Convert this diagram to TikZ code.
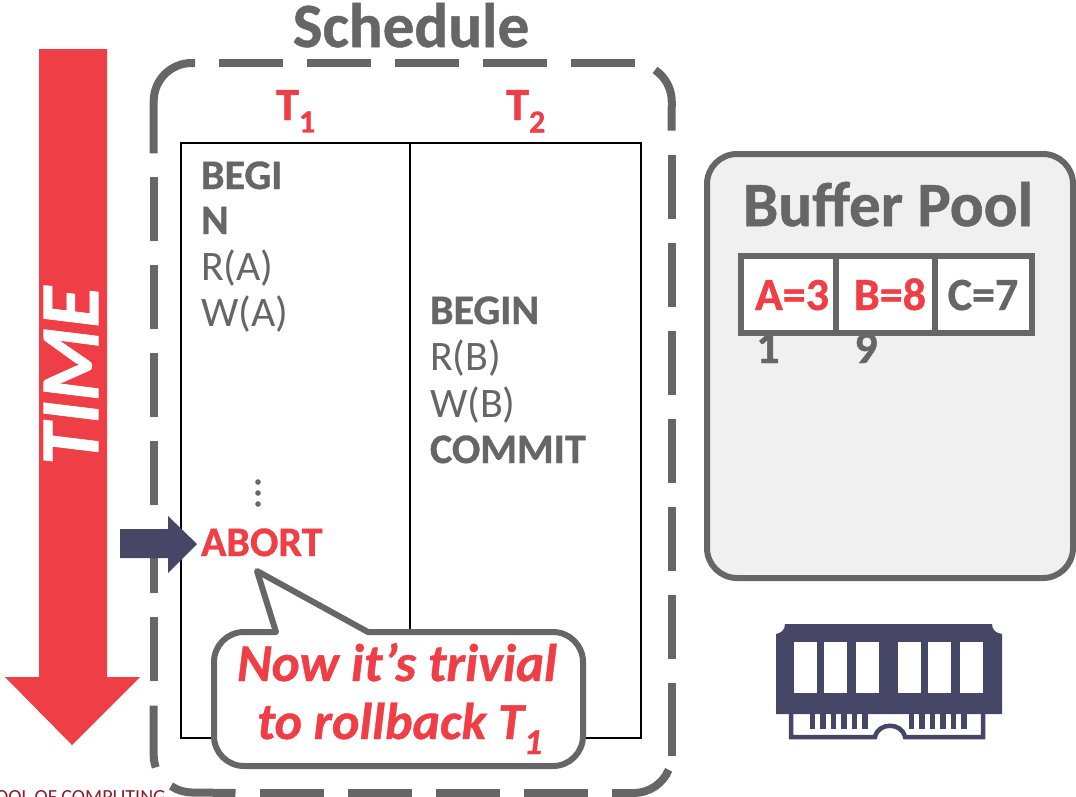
\documentclass[tikz,border=0pt]{standalone}
\usepackage{fontspec}
\setmainfont[BoldFeatures={FakeBold=0.8},BoldItalicFeatures={FakeBold=0.8}]{Carlito}
\definecolor{cred}{HTML}{EF3E45}
\definecolor{cgray}{HTML}{666666}
\definecolor{cnavy}{HTML}{464666}
\definecolor{cpool}{HTML}{F0F0F0}
\definecolor{cdark}{HTML}{8C1D2B}
\newcommand{\fs}[1]{\fontsize{#1}{#1}\selectfont}
\tikzset{
  lab/.style={inner sep=0pt,outer sep=0pt,anchor=base west},
  opname/.style={lab,text=cgray,font=\fs{42}},
  opbold/.style={lab,text=cgray,font=\fs{42}\bfseries},
  cellred/.style={inner sep=0pt,anchor=base,text=cred,font=\fs{46}\bfseries},
  cellgray/.style={inner sep=0pt,anchor=base,text=cgray,font=\fs{46}\bfseries},
  head/.style={inner sep=0pt,anchor=base,text=cgray,font=\fs{63}\bfseries},
  thead/.style={inner sep=0pt,anchor=base,text=cred,font=\fs{46}\bfseries},
  callout/.style={inner sep=0pt,anchor=base,text=cred,font=\fs{53}\bfseries\itshape},
  dashbox/.style={cgray,line width=8pt},
}
\begin{document}
\begin{tikzpicture}[x=1pt,y=-1pt]
\useasboundingbox (0,0) rectangle (1076,796);
\begin{scope}
\clip (0,0) rectangle (1076,796);
% footer
\node[inner sep=0pt,anchor=base east,text=cdark,font=\fs{20}] (footer) at (166,803) {OOL OF COMPUTING};
% time arrow
\fill[cred] (39,49) -- (107,49) -- (107,677) -- (140,677) -- (72,745) -- (5,677) -- (39,677) -- cycle;
\node[inner sep=0pt,rotate=90,text=white,font=\fs{84}\bfseries\itshape] (time) at (71,376) {TIME};
% schedule dashed box, drawn piece by piece
\draw[dashbox] (153.7,153.3) -- (153.7,101) arc[start angle=180,end angle=90,radius=38pt] -- (195,63);
\foreach \xa in {219,307,395,483,571}{\draw[dashbox] (\xa,63) -- ++(64,0);}
\draw[dashbox] (655,70) arc[start angle=56,end angle=0,radius=38pt] -- (671.7,130.7);
\foreach \yy in {154.7,242.7,330.7,418.7,506.7,594.7}{\draw[dashbox] (671.7,\yy) -- ++(0,64);}
\draw[dashbox] (671.7,682.7) -- (671.7,756);
\draw[dashbox] (612,793) -- (633.7,793) arc[start angle=-90,end angle=-23,radius=38pt];
\foreach \xa in {260,348,436,524}{\draw[dashbox] (\xa,793) -- ++(64,0);}
\draw[dashbox] (171,786) arc[start angle=236,end angle=270,radius=38pt] -- (235.5,793);
\draw[dashbox] (153.7,705.7) -- (153.7,755) arc[start angle=180,end angle=199,radius=38pt];
\foreach \yy in {177.3,265.3,353.3,441.3,529.3,617.3}{\draw[dashbox] (153.7,\yy) -- ++(0,64);}
\node[head] (sched) at (411,47) {Schedule};
\node[thead] (t1) at (296,120) {T\textsubscript{1}};
\node[thead] (t2) at (526,120) {T\textsubscript{2}};
% table
\draw[black,line width=2pt] (181,143) rectangle (641,738);
\draw[black,line width=2pt] (410,143) -- (410,738);
% T1
\node[opbold] (b1) at (201,189) {BEGI};
\node[opbold] (b2) at (201,234) {N};
\node[opname] (ra) at (201,280) {R(A)};
\node[opname] (wa) at (201,326) {W(A)};
\foreach \yy in {482,493,504}{\fill[cgray] (258,\yy) circle (2.8pt);}
\node[lab,text=cred,font=\fs{42}\bfseries] (abort) at (201,556) {ABORT};
% T2
\node[opbold] (b3) at (430,324) {BEGIN};
\node[opname] (rb) at (430,370) {R(B)};
\node[opname] (wb) at (430,417) {W(B)};
\node[opbold] (cm) at (430,463) {COMMIT};
% navy arrow
\fill[cnavy] (120,529) -- (168,529) -- (168,516) -- (197,544) -- (168,573) -- (168,558) -- (120,558) -- cycle;
% callout
\draw[cgray,line width=6pt,fill=white,line join=round]
  (257,571) -- (276,632) -- (244,632) arc[start angle=90,end angle=180,radius=30pt]
  -- (214,736) arc[start angle=180,end angle=270,radius=30pt]
  -- (553,766) arc[start angle=270,end angle=360,radius=30pt]
  -- (583,662) arc[start angle=0,end angle=90,radius=30pt]
  -- (368,632) -- cycle;
\node[callout] (c1) at (397,681) {Now it’s trivial};
\node[callout,font=\fs{52}\bfseries\itshape] (c2) at (400,739) {to rollback T\textsubscript{1}};
% buffer pool
\draw[cgray,line width=6pt,fill=cpool,rounded corners=30pt] (707,154) rectangle (1073,578);
\node[head] (bp) at (888,226) {Buf{}fer Pool};
\draw[cgray,line width=5.5pt,fill=white] (741,256) rectangle (1032,333);
\draw[cgray,line width=5.5pt] (836,256) -- (836,333);
\draw[cgray,line width=5.5pt] (935,256) -- (935,333);
\node[cellred] (a) at (792,310) {A=3};
\node[cellred] (b) at (890,310) {B=8};
\node[cellgray] (c) at (983,310) {C=7};
\node[cellgray] (a1) at (768,363) {1};
\node[cellgray] (b9) at (866,363) {9};
% RAM icon
\fill[cnavy] (785,624) -- (992,624)
  .. controls (992,630) and (996,633) .. (1002,634) -- (1002,714) -- (776,714) -- (776,634)
  .. controls (781,633) and (785,630) .. (785,624) -- cycle;
\foreach \xa in {793.5,824,855.7,898,928,960}{\fill[white] (\xa,642) rectangle ++(23,51);}
\draw[cnavy,line width=4.5pt] (791,714) -- (791,737) -- (875,737) .. controls (878,722) and (902,722) .. (905,737) -- (983,737) -- (983,714);
\foreach \xa in {809.5,820,830.5,841,851.5,862,908.5,919,929.5,940,950.5,961}{\fill[cnavy] (\xa,714) rectangle ++(5.5,15);}
\end{scope}
\end{tikzpicture}
\end{document}
